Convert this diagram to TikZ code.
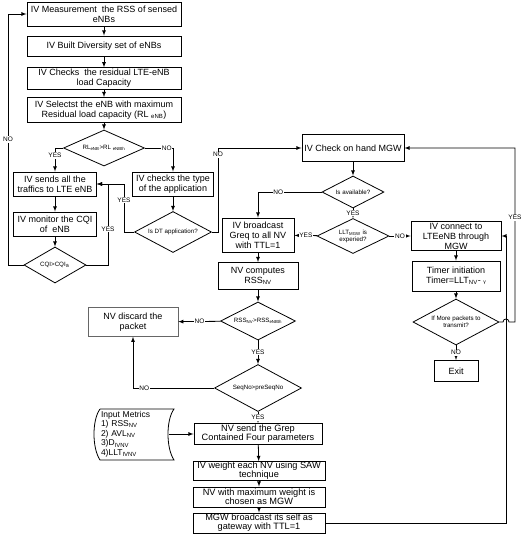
\documentclass[tikz,border=0pt]{standalone}
\usepackage{fontspec}
\setmainfont{Liberation Sans}
\usepackage{tikz}
\usetikzlibrary{arrows,shapes.geometric}

\begin{document}
\begin{tikzpicture}[x=1pt,y=-1pt,
  box/.style={draw, line width=0.9pt, align=center, inner sep=1.5pt,
    font=\fontsize{9}{10}\selectfont},
  lowbox/.style={box, inner sep=0.3pt, font=\fontsize{9.2}{9.2}\selectfont},
  cond/.style={draw, diamond, line width=0.8pt, aspect=2, inner sep=0pt, align=center,
    font=\fontsize{6.2}{7.2}\selectfont},
  line/.style={line width=0.8pt},
  lbl/.style={fill=white, inner sep=0.8pt, font=\fontsize{6.5}{7}\selectfont}]
  \useasboundingbox[fill=white] (0,0) rectangle (524,550);

  % left column
  \node[box, minimum width=154, minimum height=24] (measure) at (104,14)
    {IV Measurement\ \ the RSS of sensed\\eNBs};
  \node[box, minimum width=154, minimum height=20] (diversity) at (104,46)
    {IV Built Diversity set of eNBs};
  \node[box, minimum width=154, minimum height=21] (checkcap) at (104,78.5)
    {IV Checks\ \ the residual LTE-eNB\\load Capacity};
  \node[box, minimum width=154, minimum height=25] (select) at (104,110)
    {IV Selectst the eNB with maximum\\Residual load capacity (RL \textsubscript{eNB})};
  \node[cond, minimum width=81, minimum height=36] (rlcheck) at (104,148)
    {RL\textsubscript{eNB}>RL \textsubscript{eNBth}};
  \node[box, minimum width=83, minimum height=24] (sends) at (55,184)
    {IV sends all the\\traffics to LTE eNB};
  \node[box, minimum width=83, minimum height=24] (monitor) at (55,224)
    {IV monitor the CQI\\of\ \ eNB};
  \node[cond, minimum width=62, minimum height=36] (cqicheck) at (55,265)
    {CQI>CQI\textsubscript{th}};
  \node[box, minimum width=81, minimum height=24] (apptype) at (173,184)
    {IV checks the type\\of the application};
  \node[cond, minimum width=77, minimum height=41] (dtcheck) at (173,232)
    {Is DT application?};

  % MGW part
  \node[box, minimum width=102, minimum height=27] (checkmgw) at (353,148)
    {IV Check on hand MGW};
  \node[cond, minimum width=62, minimum height=32] (avail) at (353,192)
    {Is available?};
  \node[cond, minimum width=72, minimum height=35] (lltexp) at (353,236)
    {LLT\textsubscript{MGW} is\\experied?};
  \node[box, minimum width=72, minimum height=34] (bcast) at (258,235)
    {IV broadcast\\Greq to all NV\\with TTL=1};
  \node[box, minimum width=90, minimum height=27] (connect) at (456,236)
    {IV connect to\\LTEeNB through\\MGW};
  \node[box, minimum width=88, minimum height=30] (timer) at (456,276)
    {Timer initiation\\Timer=LLT\textsubscript{NV}- {\fontsize{5}{6}\selectfont γ}};
  \node[cond, minimum width=86, minimum height=46] (more) at (456,322)
    {If More packets to\\transmit?};
  \node[box, minimum width=44, minimum height=21] (exit) at (456,371) {Exit};

  % center column
  \node[box, minimum width=80, minimum height=27] (computes) at (258,276)
    {NV computes\\RSS\textsubscript{NV}};
  \node[cond, minimum width=75, minimum height=38] (rsscheck) at (258,321)
    {RSS\textsubscript{NV}>RSS\textsubscript{eNBth}};
  \node[box, line width=0.5pt, draw=black!60, minimum width=90, minimum height=29] (discard) at (133,322)
    {NV discard the\\packet};
  \node[cond, minimum width=87, minimum height=47] (seqcheck) at (258,388)
    {SeqNo>preSeqNo};
  \node[lowbox, minimum width=128, minimum height=21] (sendgrep) at (258,434)
    {NV send the Grep\\Contained Four parameters};
  \node[lowbox, minimum width=132, minimum height=19] (weight) at (259,471)
    {IV weight each NV using SAW\\technique};
  \node[lowbox, minimum width=132, minimum height=20] (maxw) at (259,497)
    {NV with maximum weight is\\chosen as MGW};
  \node[lowbox, minimum width=132, minimum height=20] (mgwbc) at (259,523)
    {MGW broadcast its self as\\gateway with TTL=1};

  % input metrics (stored data)
  \node[text width=66, align=left, inner sep=2pt, font=\fontsize{8.5}{9.6}\selectfont] (metrics) at (134,434)
    {Input Metrics\\1) RSS\textsubscript{NV}\\2) AVL\textsubscript{NV}\\3)D\textsubscript{IVNV}\\4)LLT\textsubscript{IVNV}};
  \draw[line] (100,409) -- (174,409) .. controls (166,420) and (166,448) .. (174,460)
    -- (100,460) .. controls (92,448) and (92,420) .. (100,409);

  \path[line, -latex]
  (measure) edge (diversity)
  (diversity) edge (checkcap)
  (checkcap) edge (select)
  (select) edge (rlcheck)
  (sends) edge (monitor)
  (monitor) edge (cqicheck)
  (apptype) edge (dtcheck)
  (checkmgw) edge (avail)
  (avail) edge node[lbl] {YES} (lltexp)
  (lltexp) edge node[lbl] {YES} (bcast)
  (lltexp) edge node[lbl] {NO} (connect)
  (connect) edge (timer)
  (timer) edge (more)
  (more) edge node[lbl] {NO} (exit)
  (bcast) edge (computes)
  (computes) edge (rsscheck)
  (rsscheck) edge node[lbl] {NO} (discard)
  (rsscheck) edge node[lbl] {YES} (seqcheck)
  (seqcheck) edge node[lbl] {YES} (sendgrep)
  (metrics) edge (sendgrep)
  (sendgrep) edge (weight)
  (weight) edge (maxw)
  (maxw) edge (mgwbc)
  ;

  \draw[line, -latex] (rlcheck.west) -| node[lbl, pos=0.66] {YES} (sends.north);
  \draw[line, -latex] (rlcheck.east) -| node[lbl, pos=0.39] {NO} (apptype.north);
  \draw[line, -latex] (cqicheck.west) -- (8,265) |- node[lbl, pos=0.25] {NO} (measure.west);
  \draw[line, -latex] (cqicheck.east) -- (108,265) |- node[lbl, pos=0.22] {YES} (sends.east);
  \draw[line, -latex] (dtcheck.west) -- (124,232) |- node[lbl, pos=0.33] {YES} (sends.east);
  \draw[line, -latex] (dtcheck.east) -- (218,232) |- node[lbl, pos=0.46] {NO} (checkmgw.west);
  \draw[line, -latex] (avail.west) -| node[lbl, pos=0.34] {NO} (bcast.north);
  \draw[line, -latex] (seqcheck.west) -| node[lbl, pos=0.43] {NO} (discard.south);
  \draw[line, -latex] (more.east) -- (503,322) .. controls (503,318) and (509,318) .. (509,322)
    -- (515,322) |- node[lbl, pos=0.3] {YES} (checkmgw.east);
  \draw[line, -latex] (mgwbc.east) -- (506,523) |- (connect.east);
\end{tikzpicture}
\end{document}
